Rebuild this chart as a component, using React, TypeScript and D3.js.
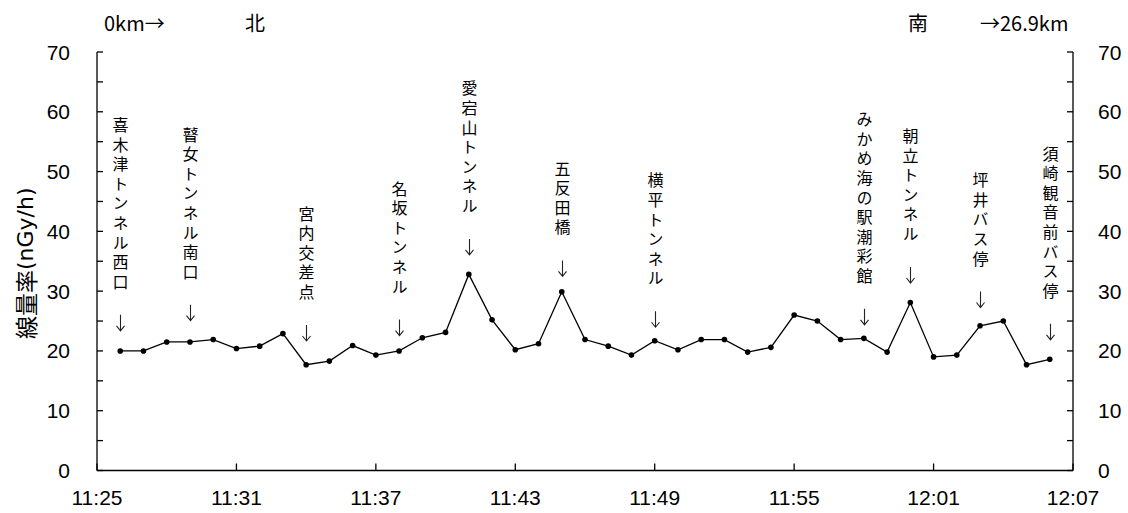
import React from "react";
import * as d3 from "d3";

const startMinute = 11 * 60 + 26;
const doseRate = [
  20.0, 20.0, 21.5, 21.5, 21.9, 20.4, 20.8, 22.9, 17.7, 18.3,
  20.9, 19.3, 20.0, 22.2, 23.1, 32.8, 25.2, 20.2, 21.2, 29.9,
  21.9, 20.8, 19.3, 21.7, 20.2, 21.9, 21.9, 19.8, 20.6, 26.0,
  25.0, 21.9, 22.1, 19.8, 28.1, 19.0, 19.3, 24.2, 25.0, 17.7, 18.6,
];
const xTickMinutes = [685, 691, 697, 703, 709, 715, 721, 727];
const yTicks = [0, 10, 20, 30, 40, 50, 60, 70];
const yMinorTicks = [0, 5, 10, 15, 20, 25, 30, 35, 40, 45, 50, 55, 60, 65, 70];

const placeNames = [
  "喜木津トンネル西口",
  "瞽女トンネル南口",
  "宮内交差点",
  "名坂トンネル",
  "愛宕山トンネル",
  "五反田橋",
  "横平トンネル",
  "みかめ海の駅潮彩館",
  "朝立トンネル",
  "坪井バス停",
  "須崎観音前バス停",
];
const placeMinutes = [686, 689, 694, 698, 701, 705, 709, 718, 720, 723, 726];
const placeArrowValues = [24.7, 26.4, 23.0, 23.9, 37.4, 33.8, 25.3, 25.7, 32.7, 28.6, 23.2];

const fmt = (m: number) => `${Math.floor(m / 60)}:${String(m % 60).padStart(2, "0")}`;

export default function App() {
  const W = 1128, H = 513;
  const left = 97, right = 1073, top = 52, bottom = 470.5;
  const x = d3.scaleLinear().domain([685, 727]).range([left, right]);
  const y = d3.scaleLinear().domain([0, 70]).range([bottom, top]);
  const pts = doseRate.map((v, i) => [x(startMinute + i), y(v)] as [number, number]);
  const line = d3.line()(pts) || "";
  const numFont = "'Liberation Sans', Arial, sans-serif";
  const jpFont = "'Noto Sans CJK JP', sans-serif";
  const charStep = 19.6;
  const jpSize = 16;
  return (
    <svg width={W} height={H} style={{ position: "absolute", left: 0, top: 0, background: "#fff" }}>
      <rect width={W} height={H} fill="#fff" />
      {/* axes */}
      <g stroke="#000" strokeWidth={1.3} fill="none">
        <line x1={left} y1={top} x2={left} y2={bottom} />
        <line x1={right} y1={top} x2={right} y2={bottom} />
        <line x1={left} y1={bottom} x2={right} y2={bottom} />
        {yMinorTicks.map((t) => (
          <g key={t}>
            <line x1={left} x2={left + 6} y1={y(t)} y2={y(t)} />
            <line x1={right} x2={right - 6} y1={y(t)} y2={y(t)} />
          </g>
        ))}
        {xTickMinutes.map((m) => (
          <line key={m} x1={x(m)} x2={x(m)} y1={bottom} y2={bottom - 7} />
        ))}
      </g>
      <g fontFamily={numFont} fontSize={21} fill="#000">
        {yTicks.map((t) => (
          <g key={t}>
            <text x={left - 27} y={y(t)} textAnchor="end" dominantBaseline="central">{t}</text>
            <text x={right + 25} y={y(t)} textAnchor="start" dominantBaseline="central">{t}</text>
          </g>
        ))}
        {xTickMinutes.map((m) => (
          <text key={m} x={x(m)} y={bottom + 27} textAnchor="middle" dominantBaseline="central">{fmt(m)}</text>
        ))}
      </g>
      <text
        transform={`translate(25, ${(top + bottom) / 2 + 2}) rotate(-90)`}
        textAnchor="middle"
        dominantBaseline="central"
        fontFamily={jpFont}
        fontSize={23}
      >
        線量率<tspan fontFamily="'DejaVu Sans', sans-serif" fontSize={22}>(nGy/h)</tspan>
      </text>
      {/* top labels */}
      <g fontSize={20} fill="#000" fontFamily={jpFont}>
        <text x={104} y={22} dominantBaseline="central">0km→</text>
        <text x={255} y={22} textAnchor="middle" dominantBaseline="central">北</text>
        <text x={918} y={22} textAnchor="middle" dominantBaseline="central">南</text>
        <text x={980} y={22} dominantBaseline="central">→26.9km</text>
      </g>
      {/* data */}
      <path d={line} fill="none" stroke="#000" strokeWidth={1.3} />
      {pts.map((p, i) => (
        <circle key={i} cx={p[0]} cy={p[1]} r={2.8} fill="#000" />
      ))}
      {/* place annotations */}
      <g fontFamily={jpFont} fontSize={jpSize} fill="#000">
        {placeNames.map((name, i) => {
          const cx = Math.round(x(placeMinutes[i])) + 0.5;
          const ay = y(placeArrowValues[i]);
          const n = Array.from(name).length;
          const topY = ay - 2 * charStep - (n - 1) * charStep - charStep / 2;
          return (
            <g key={name}>
              <path
                d={`M${cx},${ay - 8}V${ay + 8}M${cx - 4},${ay + 3}L${cx},${ay + 8}L${cx + 4},${ay + 3}`}
                fill="none"
                stroke="#222"
                strokeWidth={1.1}
              />
              <text
                x={cx}
                y={topY}
                style={{ writingMode: "vertical-rl", textOrientation: "upright" }}
                letterSpacing={charStep - jpSize}
                textAnchor="start"
              >
                {name}
              </text>
            </g>
          );
        })}
      </g>
    </svg>
  );
}
